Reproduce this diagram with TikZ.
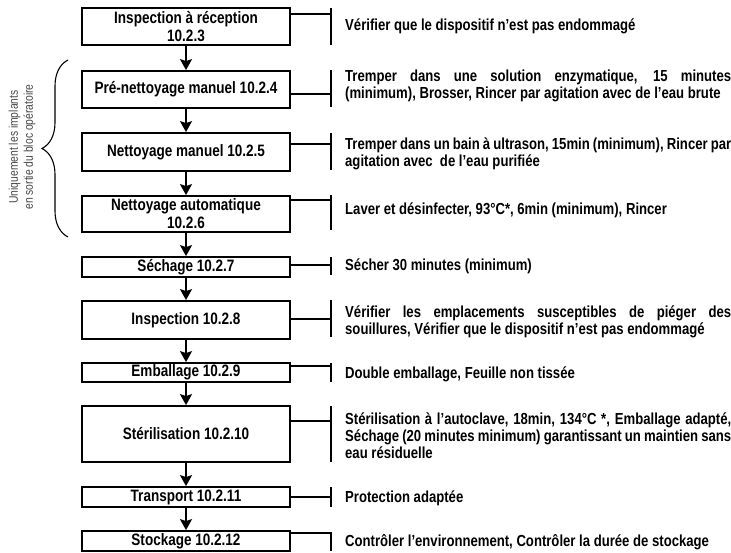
\documentclass[tikz,border=0pt]{standalone}
\usepackage{fontspec}
\setmainfont{Liberation Sans}[FakeStretch=0.82]
\usepackage{tikz}
\usetikzlibrary{arrows.meta, positioning, decorations.pathreplacing}

\begin{document}
\begin{tikzpicture}[
        x=1pt, y=1pt,
        stepbox/.style={
            rectangle,
            draw=black,
            line width=1.8pt,
            minimum width=208pt,
            align=center,
            inner sep=1pt,
            font=\bfseries\fontsize{16.5}{18}\selectfont
        },
        note/.style={
            anchor=west,
            text width=386pt,
            align=justify,
            inner sep=0pt,
            font=\bfseries\fontsize{16}{17.2}\selectfont
        },
        line/.style={
            draw,
            -{Stealth[length=11pt, width=12pt, inset=2pt]},
            line width=1.8pt
        },
        tee/.style={draw, line width=1.2pt},
        bar/.style={draw, line width=2pt}
    ]
        \useasboundingbox (0,0) rectangle (731,-553);

        % Nodes
        \node [stepbox, minimum height=37pt] (insp) at (186,-26.5) {Inspection à réception\\10.2.3};
        \node [stepbox, minimum height=37pt] (prenet) at (186,-89.5) {Pré-nettoyage manuel 10.2.4};
        \node [stepbox, minimum height=38pt] (netman) at (186,-152) {Nettoyage manuel 10.2.5};
        \node [stepbox, minimum height=36pt] (netauto) at (186,-214) {Nettoyage automatique\\10.2.6};
        \node [stepbox, minimum height=20pt] (sech) at (186,-267) {Séchage 10.2.7};
        \node [stepbox, minimum height=38pt] (inspb) at (186,-320) {Inspection 10.2.8};
        \node [stepbox, minimum height=19pt] (emb) at (186,-372.5) {Emballage 10.2.9};
        \node [stepbox, minimum height=56pt] (ster) at (186,-434) {Stérilisation 10.2.10};
        \node [stepbox, minimum height=20pt] (trans) at (186,-497) {Transport 10.2.11};
        \node [stepbox, minimum height=20pt] (stock) at (186,-541) {Stockage 10.2.12};

        % Notes
        \node [note] (n1) at (345,-26) {Vérifier que le dispositif n’est pas endommagé};
        \node [note] (n2) at (345,-86) {Tremper dans une solution enzymatique, 15 minutes\break (minimum), Brosser, Rincer par agitation avec de l’eau brute};
        \node [note] (n3) at (345,-154) {Tremper dans un bain à ultrason, 15min (minimum), Rincer par\break agitation avec\ \ de l’eau purifiée};
        \node [note] (n4) at (345,-210) {Laver et désinfecter, 93°C*, 6min (minimum), Rincer};
        \node [note] (n5) at (345,-266) {Sécher 30 minutes (minimum)};
        \node [note] (n6) at (345,-322) {Vérifier les emplacements susceptibles de piéger des\break souillures, Vérifier que le dispositif n’est pas endommagé};
        \node [note] (n7) at (345,-374) {Double emballage, Feuille non tissée};
        \node [note] (n8) at (345,-436) {Stérilisation à l’autoclave, 18min, 134°C *, Emballage adapté,\break Séchage (20 minutes minimum) garantissant un maintien sans\break eau résiduelle};
        \node [note] (n9) at (345,-498) {Protection adaptée};
        \node [note] (n10) at (345,-542) {Contrôler l’environnement, Contrôler la durée de stockage};

        % Edges
        \draw [line] (insp) -- (prenet);
        \draw [line] (prenet) -- (netman);
        \draw [line] (netman) -- (netauto);
        \draw [line] (netauto) -- (sech);
        \draw [line] (sech) -- (inspb);
        \draw [line] (inspb) -- (emb);
        \draw [line] (emb) -- (ster);
        \draw [line] (ster) -- (trans);
        \draw [line] (trans) -- (stock);

        % Tees to the notes
        \foreach \b/\ya/\yb/\yl in {insp/8/45/14, prenet/70/107/94, netman/133/170/144,
                netauto/195/230/200, sech/257/275/265, inspb/300/337/319, emb/363/382/366,
                ster/406/462/421, trans/487/507/497, stock/532/551/533} {
            \coordinate (\b-bar) at (331,-\yl);
            \draw [bar] (331,-\ya) -- (331,-\yb);
            \draw [tee] (\b.east |- \b-bar) -- (\b-bar);
        }

        % Brace
        \coordinate (brbot) at (68,-237);
        \coordinate (brtop) at (68,-60);
        \draw [decorate, decoration={brace, amplitude=26pt}, line width=1.1pt] (brbot) -- (brtop);
        \node [rotate=90, align=center, text=black!72, font=\fontsize{12.6}{15}\selectfont] (side) at (22,-147) {Uniquement les implants\\en sortie du bloc opératoire};

    \end{tikzpicture}
\end{document}
